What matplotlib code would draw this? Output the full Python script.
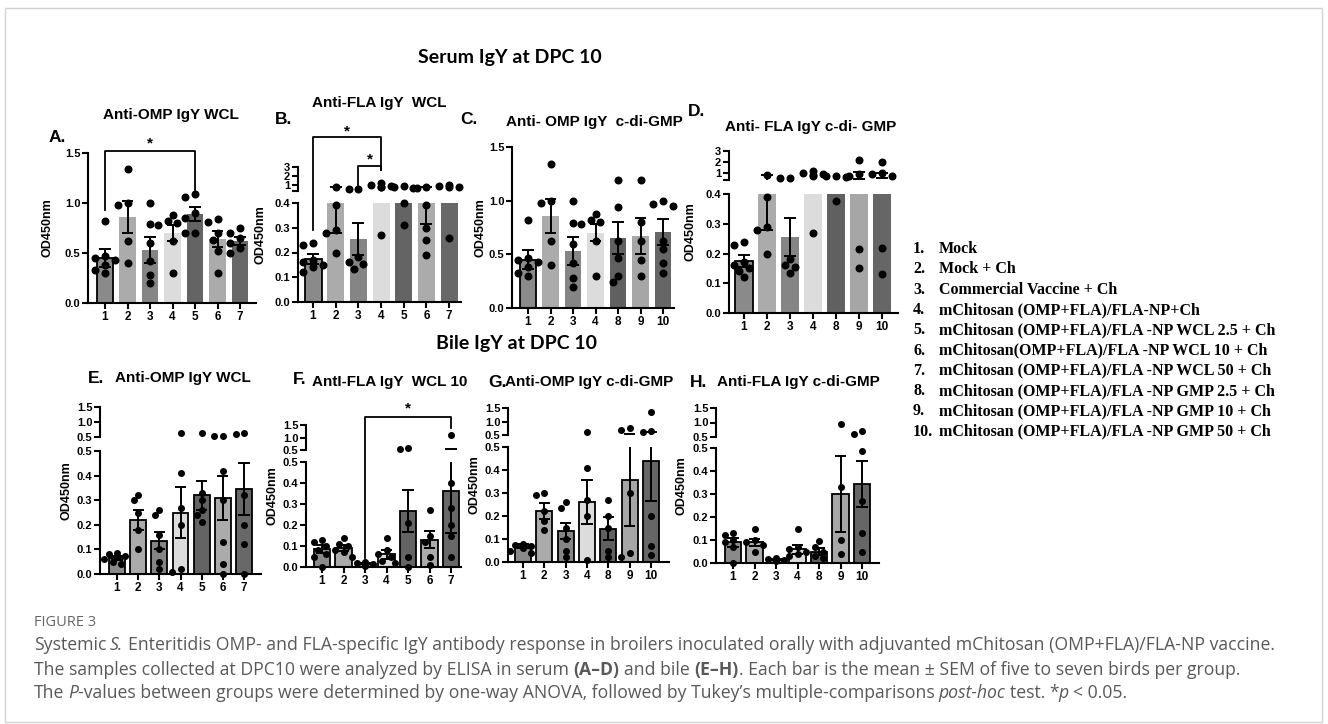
import matplotlib
matplotlib.use("Agg")
import matplotlib.pyplot as plt
from matplotlib.transforms import blended_transform_factory
from matplotlib.lines import Line2D
from matplotlib.patches import Rectangle

plt.rcParams['font.family'] = ['Liberation Sans', 'DejaVu Sans']

# ---------------- data ----------------
groups_wcl = ["1", "2", "3", "4", "5", "6", "7"]
groups_gmp = ["1", "2", "3", "4", "8", "9", "10"]

# Serum, anti-OMP IgY WCL (A)
A_mean = [0.45, 0.86, 0.53, 0.70, 0.89, 0.64, 0.62]
A_sem = [0.09, 0.16, 0.13, 0.08, 0.07, 0.08, 0.04]
A_points = [[0.82, 0.47, 0.45, 0.43, 0.38, 0.33, 0.30],
            [1.34, 1.00, 0.98, 0.62, 0.40],
            [1.00, 0.79, 0.60, 0.42, 0.28, 0.20],
            [0.88, 0.82, 0.80, 0.78, 0.62, 0.30],
            [1.09, 1.06, 0.90, 0.85, 0.70, 0.70],
            [0.84, 0.81, 0.70, 0.63, 0.52, 0.30],
            [0.75, 0.70, 0.65, 0.60, 0.55, 0.50]]

# Serum, anti-FLA IgY WCL (B)
B_mean = [0.175, 0.55, 0.255, 0.40, 0.40, 0.60, 0.40]
B_sem = [0.02, 0.27, 0.065, 0.0, 0.0, 0.285, 0.0]
B_points = [[0.24, 0.23, 0.17, 0.16, 0.15, 0.14, 0.12],
            [0.85, 0.39, 0.29, 0.28, 0.20],
            [0.60, 0.60, 0.18, 0.16, 0.155, 0.135],
            [1.25, 1.05, 0.90, 0.85, 0.80, 0.27],
            [0.95, 0.80, 0.70, 0.40, 0.31],
            [0.80, 0.75, 0.39, 0.30, 0.25, 0.19],
            [1.00, 0.95, 0.85, 0.80, 0.26]]

# Serum, anti-OMP IgY c-di-GMP (C)
C_mean = [0.45, 0.86, 0.53, 0.70, 0.65, 0.67, 0.71]
C_sem = [0.09, 0.16, 0.13, 0.08, 0.15, 0.17, 0.12]
C_points = [[0.82, 0.47, 0.45, 0.43, 0.38, 0.33, 0.30],
            [1.34, 1.00, 0.98, 0.62, 0.40],
            [1.00, 0.79, 0.60, 0.42, 0.28, 0.20],
            [0.88, 0.82, 0.80, 0.78, 0.62, 0.30],
            [1.19, 0.94, 0.62, 0.47, 0.30, 0.24],
            [1.19, 0.80, 0.62, 0.45, 0.30],
            [1.00, 0.97, 0.95, 0.62, 0.55, 0.42, 0.33]]

# Serum, anti-FLA IgY c-di-GMP (D)
D_mean = [0.175, 0.55, 0.255, 0.40, 0.40, 0.80, 0.80]
D_sem = [0.02, 0.27, 0.065, 0.0, 0.0, 0.30, 0.25]
D_points = [[0.24, 0.23, 0.17, 0.16, 0.15, 0.14, 0.12],
            [0.85, 0.39, 0.29, 0.28, 0.20],
            [0.60, 0.60, 0.18, 0.16, 0.155, 0.135],
            [1.25, 1.05, 0.90, 0.85, 0.80, 0.27],
            [0.80, 0.75, 0.70, 0.375],
            [2.20, 0.90, 0.80, 0.215, 0.15],
            [2.00, 1.00, 0.90, 0.80, 0.22, 0.13]]

# Bile, anti-OMP IgY WCL (E)
E_mean = [0.065, 0.22, 0.135, 0.25, 0.32, 0.31, 0.345]
E_sem = [0.01, 0.04, 0.035, 0.105, 0.06, 0.09, 0.105]
E_points = [[0.085, 0.08, 0.075, 0.07, 0.06, 0.05, 0.04],
            [0.32, 0.30, 0.25, 0.18, 0.10],
            [0.26, 0.24, 0.16, 0.10, 0.05, 0.02],
            [0.62, 0.41, 0.27, 0.20, 0.02, 0.01],
            [0.62, 0.33, 0.30, 0.26, 0.24, 0.21],
            [0.55, 0.55, 0.42, 0.30, 0.13, 0.04, 0.0],
            [0.65, 0.60, 0.32, 0.20, 0.12, 0.0]]

# Bile, anti-FLA IgY WCL 10 (F)
F_mean = [0.085, 0.09, 0.015, 0.06, 0.265, 0.13, 0.36]
F_sem = [0.02, 0.015, 0.003, 0.02, 0.10, 0.04, 0.20]
F_points = [[0.13, 0.12, 0.10, 0.08, 0.06, 0.05, 0.0],
            [0.14, 0.11, 0.10, 0.08, 0.07, 0.05],
            [0.025, 0.02, 0.015, 0.01, 0.005],
            [0.14, 0.08, 0.06, 0.05, 0.03, 0.02],
            [0.60, 0.55, 0.21, 0.05, 0.0],
            [0.27, 0.15, 0.12, 0.05, 0.01],
            [1.10, 0.40, 0.28, 0.20, 0.15, 0.05]]

# Bile, anti-OMP IgY c-di-GMP (G)
G_mean = [0.07, 0.22, 0.135, 0.26, 0.145, 0.355, 0.44]
G_sem = [0.01, 0.035, 0.035, 0.095, 0.05, 0.20, 0.175]
G_points = [[0.08, 0.075, 0.07, 0.065, 0.06, 0.05, 0.04],
            [0.30, 0.29, 0.22, 0.18, 0.14],
            [0.26, 0.235, 0.15, 0.10, 0.05, 0.02],
            [0.62, 0.41, 0.27, 0.20, 0.01],
            [0.27, 0.20, 0.15, 0.05, 0.02],
            [0.75, 0.70, 0.30, 0.04, 0.02],
            [1.35, 0.65, 0.60, 0.20, 0.07, 0.03]]

# Bile, anti-FLA IgY c-di-GMP (H)
H_mean = [0.09, 0.09, 0.015, 0.06, 0.05, 0.30, 0.345]
H_sem = [0.02, 0.015, 0.003, 0.02, 0.015, 0.165, 0.10]
H_points = [[0.13, 0.12, 0.10, 0.09, 0.07, 0.0],
            [0.15, 0.10, 0.09, 0.08, 0.05],
            [0.02, 0.018, 0.015, 0.012, 0.01],
            [0.15, 0.07, 0.06, 0.05, 0.04, 0.03],
            [0.095, 0.07, 0.05, 0.03, 0.02],
            [0.95, 0.33, 0.10, 0.04],
            [0.72, 0.62, 0.485, 0.27, 0.13, 0.05]]

legend_labels = ["Mock",
                 "Mock + Ch",
                 "Commercial Vaccine + Ch",
                 "mChitosan (OMP+FLA)/FLA-NP+Ch",
                 "mChitosan (OMP+FLA)/FLA -NP WCL 2.5 + Ch",
                 "mChitosan(OMP+FLA)/FLA -NP WCL 10 + Ch",
                 "mChitosan (OMP+FLA)/FLA -NP WCL 50 + Ch",
                 "mChitosan (OMP+FLA)/FLA -NP GMP 2.5 + Ch",
                 "mChitosan (OMP+FLA)/FLA -NP GMP 10 + Ch",
                 "mChitosan (OMP+FLA)/FLA -NP GMP 50 + Ch"]

# ---------------- style / layout ----------------
GROUP_COLORS = {"1": "#8a8a8a", "2": "#ababab", "3": "#858585", "4": "#dcdcdc",
                "5": "#646464", "6": "#ababab", "7": "#686868", "8": "#606060",
                "9": "#a6a6a6", "10": "#666666"}

W, H = 1328, 724
DPI = 100
fig = plt.figure(figsize=(W / DPI, H / DPI), dpi=DPI)
fig.patch.set_facecolor("white")

# light frame around the figure area
fig.add_artist(Rectangle((5 / W, 1 - 722 / H), (1322 - 5) / W, (722 - 8) / H,
                         transform=fig.transFigure, fill=False,
                         edgecolor="#d2d2d2", linewidth=1.0))


def fy(p):
    return 1 - p / H


def make_axes(x0, x1, ytop, ybot):
    ax = fig.add_axes([x0 / W, fy(ybot), (x1 - x0) / W, (ybot - ytop) / H])
    ax.patch.set_alpha(0)
    for s in ("top", "right"):
        ax.spines[s].set_visible(False)
    ax.spines["left"].set_linewidth(1.5)
    ax.spines["bottom"].set_linewidth(1.5)
    ax.tick_params(axis="both", direction="out", length=4, width=1.5, pad=1.5)
    return ax


LOW_TICKS_04 = [0, 0.1, 0.2, 0.3, 0.4]
LOW_TICKS_05 = [0, 0.1, 0.2, 0.3, 0.4, 0.5]


def fmt(v):
    return "%.1f" % v


def draw_panel(groups, means, sems, points, g, outline_all, msize):
    n = len(groups)
    sp = (g["barN"] - g["bar1"]) / (n - 1)
    xl = (-(g["bar1"] - g["spine"]) / sp, n - 1 + (g["right"] - g["barN"]) / sp)
    broken = "up_top" in g
    split = g["split"]
    ax = make_axes(g["spine"], g["right"], g["lo_top"], g["y0"])
    ax.set_xlim(*xl)
    ax.set_ylim(0, split)
    ax.set_yticks(g["lo_ticks"], [fmt(t) for t in g["lo_ticks"]],
                  fontsize=8, fontweight="bold")
    ax.set_xticks(range(n), groups, fontsize=8.5, fontweight="bold")
    axu = None
    if broken:
        axu = make_axes(g["spine"], g["right"], g["up_top"], g["up_bot"])
        axu.set_xlim(*xl)
        axu.set_ylim(split, g["up_max"])
        axu.spines["bottom"].set_visible(False)
        axu.tick_params(axis="x", bottom=False, labelbottom=False)
        axu.set_yticks(g["up_ticks"], g["up_labels"], fontsize=8, fontweight="bold")

    def v2px(v):
        if (not broken) or v <= split:
            return g["y0"] - v / split * (g["y0"] - g["lo_top"])
        return g["up_bot"] - (v - split) / (g["up_max"] - split) * (g["up_bot"] - g["up_top"])

    x = list(range(n))
    colors = [GROUP_COLORS[k] for k in groups]
    edges = ["black" if (outline_all or k == "1") else "none" for k in groups]
    lws = [1.3 if (outline_all or k == "1") else 0 for k in groups]
    ax.bar(x, means, width=0.75, color=colors, edgecolor=edges, linewidth=lws, zorder=2)

    # error bars (mean +- SEM), split over the axis break
    cw = 0.26
    for i, (m, s) in enumerate(zip(means, sems)):
        if s <= 0:
            continue
        lo, hi = m - s, m + s
        kw = dict(color="black", lw=1.4, zorder=3, solid_capstyle="butt")
        a, b = max(lo, 0), min(hi, split)
        if a < b:
            ax.plot([i, i], [a, b], **kw)
        if 0 <= lo <= split:
            ax.plot([i - cw, i + cw], [lo, lo], **kw)
        if hi <= split:
            ax.plot([i - cw, i + cw], [hi, hi], **kw)
        if broken and hi > split:
            axu.plot([i, i], [max(lo, split), hi], **kw)
            axu.plot([i - cw, i + cw], [hi, hi], **kw)
            if lo > split:
                axu.plot([i - cw, i + cw], [lo, lo], **kw)

    # individual birds as a small swarm around each bar
    diam = msize
    for i, vals in enumerate(points):
        placed = []
        for v in sorted(vals, reverse=True):
            y = v2px(v)
            xo = 0.0
            for c in (0, -1, 1, -2, 2, -3, 3):
                cand = c * diam * 0.6
                if all((cand - px) ** 2 + (y - py) ** 2 >= (diam * 0.92) ** 2
                       for px, py in placed):
                    xo = cand
                    break
            placed.append((xo, y))
            target = axu if (broken and v > split) else ax
            target.scatter([i + xo / sp], [v], s=(diam * 0.72) ** 2, c="black",
                           linewidths=0, zorder=5, clip_on=False)
    return ax, axu


GEOM = {
    "A": dict(spine=88, bar1=105, barN=240, right=256, y0=303, lo_top=153,
              split=1.5, lo_ticks=[0, 0.5, 1.0, 1.5]),
    "B": dict(spine=298, bar1=313, barN=449, right=461, y0=302, lo_top=203,
              split=0.4, lo_ticks=LOW_TICKS_04, up_bot=191, up_top=167, up_max=3,
              up_ticks=[0.4, 1, 2, 3], up_labels=["", "1", "2", "3"]),
    "C": dict(spine=512, bar1=528, barN=663, right=674, y0=308, lo_top=147,
              split=1.5, lo_ticks=[0, 0.5, 1.0, 1.5]),
    "D": dict(spine=729, bar1=744, barN=882, right=898, y0=313, lo_top=194,
              split=0.4, lo_ticks=LOW_TICKS_04, up_bot=180, up_top=151, up_max=3,
              up_ticks=[0.4, 1, 2, 3], up_labels=["", "1", "2", "3"]),
    "E": dict(spine=100, bar1=117, barN=244, right=261, y0=574, lo_top=451,
              split=0.5, lo_ticks=LOW_TICKS_05, up_bot=437, up_top=407, up_max=1.5,
              up_ticks=[0.5, 1.0, 1.5], up_labels=["0.5", "1.0", "1.5"]),
    "F": dict(spine=306, bar1=322, barN=451, right=461, y0=567, lo_top=462,
              split=0.5, lo_ticks=LOW_TICKS_05, up_bot=450, up_top=425, up_max=1.5,
              up_ticks=[0.5, 1.0, 1.5], up_labels=["0.5", "1.0", "1.5"]),
    "G": dict(spine=508, bar1=523, barN=651, right=669, y0=562, lo_top=447,
              split=0.5, lo_ticks=LOW_TICKS_05, up_bot=435, up_top=408, up_max=1.5,
              up_ticks=[0.5, 1.0, 1.5], up_labels=["0.5", "1.0", "1.5"]),
    "H": dict(spine=716, bar1=733, barN=862, right=879, y0=563, lo_top=448,
              split=0.5, lo_ticks=LOW_TICKS_05, up_bot=437, up_top=408, up_max=1.5,
              up_ticks=[0.5, 1.0, 1.5], up_labels=["0.5", "1.0", "1.5"]),
}

panels = {
    "A": (groups_wcl, A_mean, A_sem, A_points, False, 8),
    "B": (groups_wcl, B_mean, B_sem, B_points, False, 8),
    "C": (groups_gmp, C_mean, C_sem, C_points, False, 8),
    "D": (groups_gmp, D_mean, D_sem, D_points, False, 8),
    "E": (groups_wcl, E_mean, E_sem, E_points, True, 7),
    "F": (groups_wcl, F_mean, F_sem, F_points, True, 7),
    "G": (groups_gmp, G_mean, G_sem, G_points, True, 7),
    "H": (groups_gmp, H_mean, H_sem, H_points, True, 7),
}

axes = {}
for key, (grp, mn, se, pts, outl, ms) in panels.items():
    axes[key] = draw_panel(grp, mn, se, pts, GEOM[key], outl, ms)

# panel titles / letters / y labels
TITLES = {
    "A": ("A.", 49, 138, "Anti-OMP IgY WCL", 103, 115, 47),
    "B": ("B.", 275, 120, "Anti-FLA IgY  WCL", 312, 103, 260),
    "C": ("C.", 460, 119, "Anti- OMP IgY  c-di-GMP", 506, 122, 481),
    "D": ("D.", 688, 111, "Anti- FLA IgY c-di- GMP", 725, 127, 690),
    "E": ("E.", 88, 378, "Anti-OMP IgY WCL", 115, 378, 66),
    "F": ("F.", 293, 380, "AntI-FLA IgY  WCL 10", 312, 382, 272),
    "G": ("G.", 488, 382, "Anti-OMP IgY c-di-GMP", 505, 382, 474),
    "H": ("H.", 690, 382, "Anti-FLA IgY c-di-GMP", 717, 382, 682),
}
for key, (let, lx, ly, tt, tx, ty, ylx) in TITLES.items():
    g = GEOM[key]
    fig.text(lx / W, fy(ly), let, fontsize=12.5, fontweight="bold", ha="left", va="center")
    fig.text(tx / W, fy(ty), tt, fontsize=11, fontweight="bold", ha="left", va="center")
    top = g.get("up_top", g["lo_top"])
    fig.text(ylx / W, fy((top + g["y0"]) / 2), "OD450nm", fontsize=9, fontweight="bold",
             rotation=90, ha="center", va="center")


def bracket(ax, i0, i1, ytop, yl, yr, ystar):
    tr = blended_transform_factory(ax.transData, fig.transFigure)
    fig.add_artist(Line2D([i0, i0, i1, i1], [fy(yl), fy(ytop), fy(ytop), fy(yr)],
                          transform=tr, color="black", lw=1.3))
    fig.text((i0 + i1) / 2, fy(ystar), "*", transform=tr, ha="center", va="center",
             fontsize=11, fontweight="bold")


bracket(axes["A"][0], 0, 4, 151, 210, 190, 143)
bracket(axes["B"][0], 0, 3, 137, 230, 170, 131)
bracket(axes["B"][0], 2, 3, 166, 188, 170, 159)
bracket(axes["F"][0], 2, 6, 417, 558, 428, 408)

# section headers
fig.text(510 / W, fy(57), "Serum IgY at DPC 10", fontsize=14, fontweight="bold",
         family=["Lato", "DejaVu Sans"], ha="center", va="center")
fig.text(517 / W, fy(343), "Bile IgY at DPC 10", fontsize=14, fontweight="bold",
         family=["Lato", "DejaVu Sans"], ha="center", va="center")

# group legend
for i, lab in enumerate(legend_labels):
    y = fy(249 + 20.3 * i)
    fig.text(913 / W, y, "%d." % (i + 1), fontsize=11.5, fontweight="bold",
             family=["Liberation Serif", "DejaVu Serif"], ha="left", va="center")
    fig.text(939 / W, y, lab, fontsize=11.5, fontweight="bold",
             family=["Liberation Serif", "DejaVu Serif"], ha="left", va="center")

# caption with mixed styles
renderer = fig.canvas.get_renderer()
CAP = dict(fontsize=12.7, family=["Open Sans", "DejaVu Sans"], color="#595959",
           va="center", ha="left")


def text_w(s, **kw):
    t = fig.text(0, 0, s, **kw)
    w = t.get_window_extent(renderer).width
    t.remove()
    return w


def rich(xp, yp, parts):
    for s, extra in parts:
        kw = dict(CAP)
        kw.update(extra)
        sw = text_w("a a", **kw) - text_w("aa", **kw)
        lead = len(s) - len(s.lstrip(" "))
        trail = len(s) - len(s.rstrip(" "))
        xp += lead * sw
        if extra.get("style") == "italic":
            xp -= 1.0
        core = s.strip(" ")
        if core:
            t = fig.text(xp / W, fy(yp), core, **kw)
            xp += t.get_window_extent(renderer).width
        xp += trail * sw


fig.text(34 / W, fy(622), "FIGURE 3", fontsize=10.5, family=["Open Sans", "DejaVu Sans"],
         color="#666666", va="center", ha="left")
IT = {"style": "italic"}
BF = {"fontweight": "bold"}
rich(34, 645, [("Systemic ", {}), ("S.", IT),
               (" Enteritidis OMP- and FLA-specific IgY antibody response in broilers "
                "inoculated orally with adjuvanted mChitosan (OMP+FLA)/FLA-NP vaccine.", {})])
rich(34, 670, [("The samples collected at DPC10 were analyzed by ELISA in serum ", {}),
               ("(A\u2013D)", BF), (" and bile ", {}), ("(E\u2013H)", BF),
               (". Each bar is the mean \u00b1 SEM of five to seven birds per group.", {})])
rich(34, 693, [("The ", {}), ("P", IT),
               ("-values between groups were determined by one-way ANOVA, followed by "
                "Tukey\u2019s multiple-comparisons ", {}), ("post-hoc", IT),
               (" test. *", {}), ("p", IT), (" < 0.05.", {})])

fig.savefig("out.png", dpi=DPI, facecolor="white")
